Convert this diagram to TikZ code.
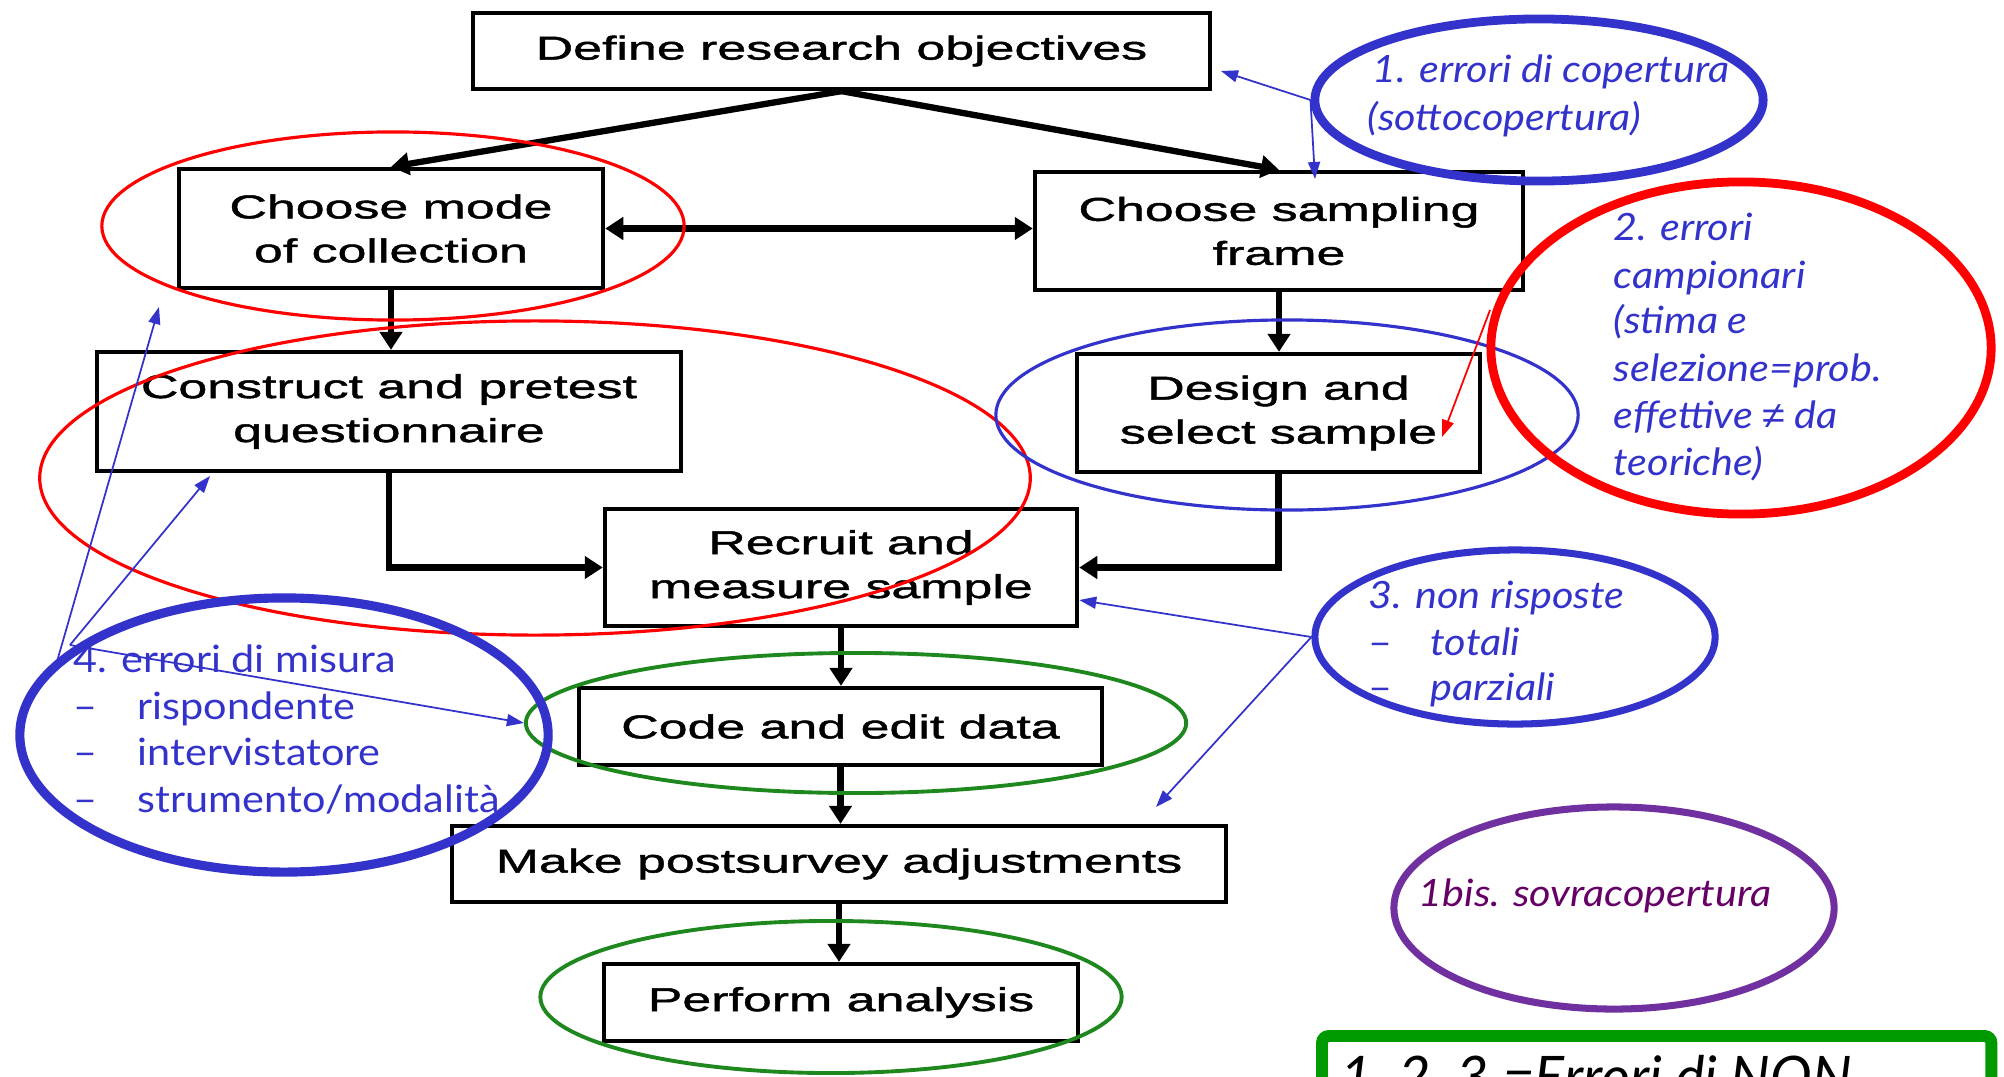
\documentclass[tikz,border=0pt]{standalone}
\usepackage{fontspec}
\setmainfont{Lato}
\newfontfamily\boxfont[FakeStretch=1.57,FakeBold=1.4]{Liberation Sans}
\newfontfamily\annfont[FakeStretch=1.1]{Lato}
\newfontfamily\sumfont{Lato}
\newfontfamily\symfont[FakeStretch=1.1]{Liberation Sans}
\usetikzlibrary{arrows.meta,shapes.geometric,calc}
\definecolor{annblue}{RGB}{51,51,204}
\definecolor{annred}{RGB}{255,0,0}
\definecolor{anngreen}{RGB}{30,135,30}
\definecolor{annpurple}{RGB}{112,48,160}
\definecolor{txtpurple}{RGB}{102,0,102}
\definecolor{boxgreen}{RGB}{0,153,0}
\begin{document}
\begin{tikzpicture}[x=0.01cm,y=-0.01cm,
 stepbox/.style={draw=black,line width=1.2pt,inner sep=0pt,align=center,font=\boxfont\fontsize{9.4pt}{12.5pt}\selectfont},
 flow/.style={draw=black,line width=1.8pt,-{Triangle[length=0.18cm,width=0.22cm]}},
 flowboth/.style={draw=black,line width=1.8pt,{Triangle[length=0.18cm,width=0.22cm]}-{Triangle[length=0.18cm,width=0.22cm]}},
 ring/.style={ellipse,inner sep=0pt},
 thinring/.style={ring,line width=0.9pt},
 thickring/.style={ring,line width=2.5pt},
 ann/.style={anchor=base west,inner sep=0pt,font=\annfont\fontsize{10.7pt}{13.4pt}\selectfont},
 anni/.style={anchor=base west,inner sep=0pt,font=\annfont\itshape\fontsize{10.7pt}{13.4pt}\selectfont},
 pointer/.style={line width=0.5pt,-{Triangle[length=0.17cm,width=0.12cm]}},
]
\useasboundingbox (0,0) rectangle (2004,1076);
\clip (0,0) rectangle (2004,1076);

% flow chart boxes
\node[stepbox,minimum width=7.37cm,minimum height=0.76cm] (define) at (841.5,51) {Define research objectives};
\node[stepbox,minimum width=4.24cm,minimum height=1.19cm] (mode) at (391,228.5) {Choose mode\\of collection};
\node[stepbox,minimum width=4.88cm,minimum height=1.18cm] (frame) at (1279,231) {Choose sampling\\frame};
\node[stepbox,minimum width=5.84cm,minimum height=1.19cm] (quest) at (389,411.5) {Construct and pretest\\questionnaire};
\node[stepbox,minimum width=4.03cm,minimum height=1.18cm] (design) at (1278.5,413) {Design and\\select sample};
\node[stepbox,minimum width=4.72cm,minimum height=1.17cm] (recruit) at (841,567.5) {Recruit and\\measure sample};
\node[stepbox,minimum width=5.23cm,minimum height=0.77cm] (code) at (840.5,726.5) {Code and edit data};
\node[stepbox,minimum width=7.74cm,minimum height=0.76cm] (make) at (839,864) {Make postsurvey adjustments};
\node[stepbox,minimum width=4.74cm,minimum height=0.77cm] (perform) at (841,1002.5) {Perform analysis};

% flow arrows
\draw[flow] (define.south) -- (mode.north);
\draw[flow] (define.south) -- (frame.north);
\draw[flowboth] (mode.east) -- (mode.east -| frame.west);
\draw[flow] (mode.south) -- (mode.south |- quest.north);
\draw[flow] (frame.south) -- (frame.south |- design.north);
\draw[flow] (quest.south) |- (recruit.west);
\draw[flow] (design.south) |- (recruit.east);
\draw[flow] (recruit.south) -- (recruit.south |- code.north);
\draw[flow] (code.south) -- (code.south |- make.north);
\draw[flow] (make.south) -- (make.south |- perform.north);

% annotation ellipses
\node[thinring,draw=annred,minimum width=5.82cm,minimum height=1.88cm] (r1) at (393,226) {};
\node[thinring,draw=annred,minimum width=9.90cm,minimum height=3.14cm] (r2) at (535,478) {};
\node[thinring,draw=annblue,minimum width=5.82cm,minimum height=1.90cm] (bd) at (1287,415) {};
\node[thinring,draw=anngreen,line width=1.1pt,minimum width=6.60cm,minimum height=1.40cm] (g1) at (856,723) {};
\node[thinring,draw=anngreen,line width=1.1pt,minimum width=5.81cm,minimum height=1.52cm] (g2) at (831,997) {};
\node[thickring,draw=annblue,minimum width=4.48cm,minimum height=1.62cm] (e1) at (1539,100) {};
\node[thickring,draw=annred,minimum width=5.00cm,minimum height=3.32cm] (e2) at (1741,348) {};
\node[thickring,draw=annblue,line width=2pt,minimum width=4.00cm,minimum height=1.74cm] (e3) at (1515,637) {};
\node[thickring,draw=annblue,line width=2.6pt,minimum width=5.28cm,minimum height=2.74cm] (e4) at (284,735) {};
\node[thickring,draw=annpurple,line width=2pt,minimum width=4.40cm,minimum height=2.02cm] (e5) at (1614,908) {};

% annotation texts
\begin{scope}[text=annblue]
\node[anni] (t1a) at (1372,83) {1. errori di copertura};
\node[anni] (t1b) at (1367,130) {(sottocopertura)};
\node[anni] (t2a) at (1613,240) {2. errori};
\node[anni] (t2b) at (1613,288) {campionari};
\node[anni] (t2c) at (1613,333) {(stima e};
\node[anni] (t2d) at (1613,381) {selezione=prob.};
\node[anni] (t2e) at (1613,428) {effettive {\symfont\itshape ≠} da};
\node[anni] (t2f) at (1613,475) {teoriche)};
\node[anni] (t3a) at (1368,608) {3. non risposte};
\node[ann] (t3bd) at (1368,655) {–};
\node[anni] (t3b) at (1430,655) {totali};
\node[ann] (t3cd) at (1368,700) {–};
\node[anni] (t3c) at (1430,700) {parziali};
\node[ann] (t4a) at (73,672) {4. errori di misura};
\node[ann] (t4bd) at (73,719) {–};
\node[ann] (t4b) at (137,719) {rispondente};
\node[ann] (t4cd) at (73,765) {–};
\node[ann] (t4c) at (137,765) {intervistatore};
\node[ann] (t4dd) at (73,812) {–};
\node[ann] (t4d) at (137,812) {strumento/modalità};
\end{scope}
\node[anni,text=txtpurple] (t5) at (1418,906) {1bis. sovracopertura};

% summary box (cut by the page edge)
\node[draw=boxgreen,line width=3.4pt,rounded corners=2pt,anchor=north west,inner sep=0pt,minimum width=6.69cm,minimum height=1.2cm] (sum) at (1316,1030) {};
\node[anchor=base west,inner sep=0pt,font=\sumfont\itshape\fontsize{15.9pt}{19pt}\selectfont] (sumt) at (1340,1096) {1, 2, 3 =Errori di NON};

% pointers
\coordinate (pA) at (1221,71);
\coordinate (pB) at (1315,179);
\draw[pointer,draw=annblue,fill=annblue] (e1.west) -- (pA);
\draw[pointer,draw=annblue,fill=annblue] (e1.west) -- (pB);
\coordinate (pC0) at (1490,310);
\coordinate (pC) at (1442,437);
\draw[pointer,draw=annred,fill=annred] (pC0) -- (pC);
\coordinate (m1) at (54,672);
\coordinate (m2) at (70,645);
\coordinate (pD) at (159,307);
\coordinate (pE) at (210,476);
\draw[pointer,draw=annblue,fill=annblue] (m1) -- (pD);
\draw[pointer,draw=annblue,fill=annblue] (m2) -- (pE);
\draw[pointer,draw=annblue,fill=annblue] (m2) -- (g1.west);
\coordinate (pF) at (1156,807);
\draw[pointer,draw=annblue,fill=annblue] (e3.west) -- ([yshift=-0.325cm]recruit.east);
\draw[pointer,draw=annblue,fill=annblue] (e3.west) -- (pF);
\end{tikzpicture}
\end{document}
